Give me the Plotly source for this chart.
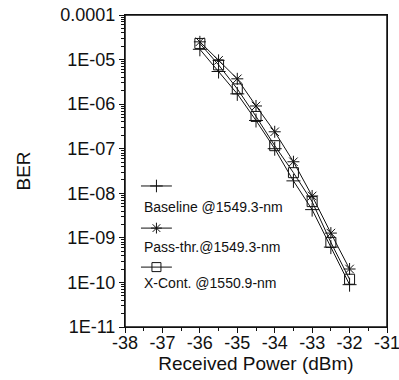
import plotly.graph_objects as go

power = [-36, -35.5, -35, -34.5, -34, -33.5, -33, -32.5, -32]
baseline = [1.7e-5, 5.4e-6, 1.7e-6, 4.3e-7, 1.0e-7, 1.9e-8, 4.3e-9, 6.2e-10, 8.9e-11]
passthr = [2.5e-5, 9.6e-6, 3.7e-6, 9.1e-7, 2.4e-7, 5.1e-8, 8.7e-9, 1.28e-9, 2.0e-10]
xcont = [2.3e-5, 7.6e-6, 2.2e-6, 5.3e-7, 1.17e-7, 2.9e-8, 6.5e-9, 7.9e-10, 1.18e-10]

series_names = ["Baseline @1549.3-nm", "Pass-thr.@1549.3-nm", "X-Cont. @1550.9-nm"]
series_symbols = ["cross-thin-open", "asterisk-open", "square-open"]
series_values = [baseline, passthr, xcont]

y_tickvals = [1e-11, 1e-10, 1e-9, 1e-8, 1e-7, 1e-6, 1e-5, 1e-4]
y_ticktext = ["1E-11", "1E-10", "1E-09", "1E-08", "1E-07", "1E-06", "1E-05", "0.0001"]
x_tickvals = [-38, -37, -36, -35, -34, -33, -32, -31]
x_ticktext = ["-38", "-37", "-36", "-35", "-34", "-33", "-32", "-31"]

FONT = "Liberation Sans, Arial, sans-serif"
INK = "#111111"

minor_y = [m * 10.0 ** e for e in range(-11, -4) for m in range(2, 10)]

fig = go.Figure()
for name, sym, vals in zip(series_names, series_symbols, series_values):
    fig.add_trace(go.Scatter(
        x=power, y=vals, mode="lines+markers", name=name,
        line=dict(color=INK, width=1),
        marker=dict(symbol=sym, size=10, color=INK, line=dict(color=INK, width=1)),
        showlegend=False,
    ))

# legend block (positions as fractions of the plot area)
legend_sample_y = [0.452, 0.317, 0.192]
legend_text_y = [0.385, 0.256, 0.141]
LX0, LX1, LXM = 0.061, 0.179, 0.120
for sym, ys, yt, name in zip(series_symbols, legend_sample_y, legend_text_y, series_names):
    fig.add_shape(type="line", xref="x domain", yref="y domain",
                  x0=LX0, x1=LX1, y0=ys, y1=ys, line=dict(color=INK, width=1))
    fig.add_trace(go.Scatter(
        x=[-38 + 7 * LXM], y=[10 ** (-11 + 7 * ys)], mode="markers",
        showlegend=False, hoverinfo="skip",
        marker=dict(symbol=sym, size=9, color=INK, line=dict(color=INK, width=1)),
    ))
    fig.add_annotation(x=0.063, y=yt, xref="x domain", yref="y domain", text=name, showarrow=False,
                       xanchor="left", yanchor="middle",
                       font=dict(family=FONT, size=14, color=INK))

# plot frame
fig.add_shape(type="rect", xref="x domain", yref="y domain", x0=0, x1=1, y0=0, y1=1,
              line=dict(color=INK, width=1.5), fillcolor="rgba(0,0,0,0)", layer="above")

fig.update_layout(
    width=399, height=380,
    margin=dict(l=125, r=12, t=15, b=53),
    paper_bgcolor="white", plot_bgcolor="white",
    font=dict(family=FONT, color=INK),
    xaxis=dict(
        range=[-38, -31], tickmode="array", tickvals=x_tickvals, ticktext=x_ticktext,
        ticks="outside", ticklen=5, tickwidth=1, tickcolor=INK,
        minor=dict(dtick=0.5, ticks="outside", ticklen=3, tickcolor=INK),
        showgrid=False, zeroline=False, automargin=False,
        showline=True, linecolor=INK, linewidth=1, mirror=True,
        ticklabelstandoff=-6, ticklabeloverflow="allow",
        tickfont=dict(size=18, family=FONT, color=INK),
        title=dict(text="Received Power (dBm)", font=dict(size=19, family=FONT, color=INK), standoff=4),
    ),
    yaxis=dict(
        type="log", range=[-11, -4], tickmode="array", tickvals=y_tickvals, ticktext=y_ticktext,
        ticks="outside", ticklen=5, tickwidth=1, tickcolor=INK,
        minor=dict(tickmode="array", tickvals=minor_y, ticks="outside", ticklen=3, tickcolor=INK),
        showgrid=False, zeroline=False, automargin=False,
        showline=True, linecolor=INK, linewidth=1, mirror=True,
        ticklabeloverflow="allow",
        tickfont=dict(size=18, family=FONT, color=INK),
        title=dict(text="BER", font=dict(size=19, family=FONT, color=INK), standoff=24),
    ),
)

fig.write_html(
    "out.html",
    config={"displayModeBar": False},
    post_script="document.body.style.margin='0';document.body.style.overflow='hidden';",
)
